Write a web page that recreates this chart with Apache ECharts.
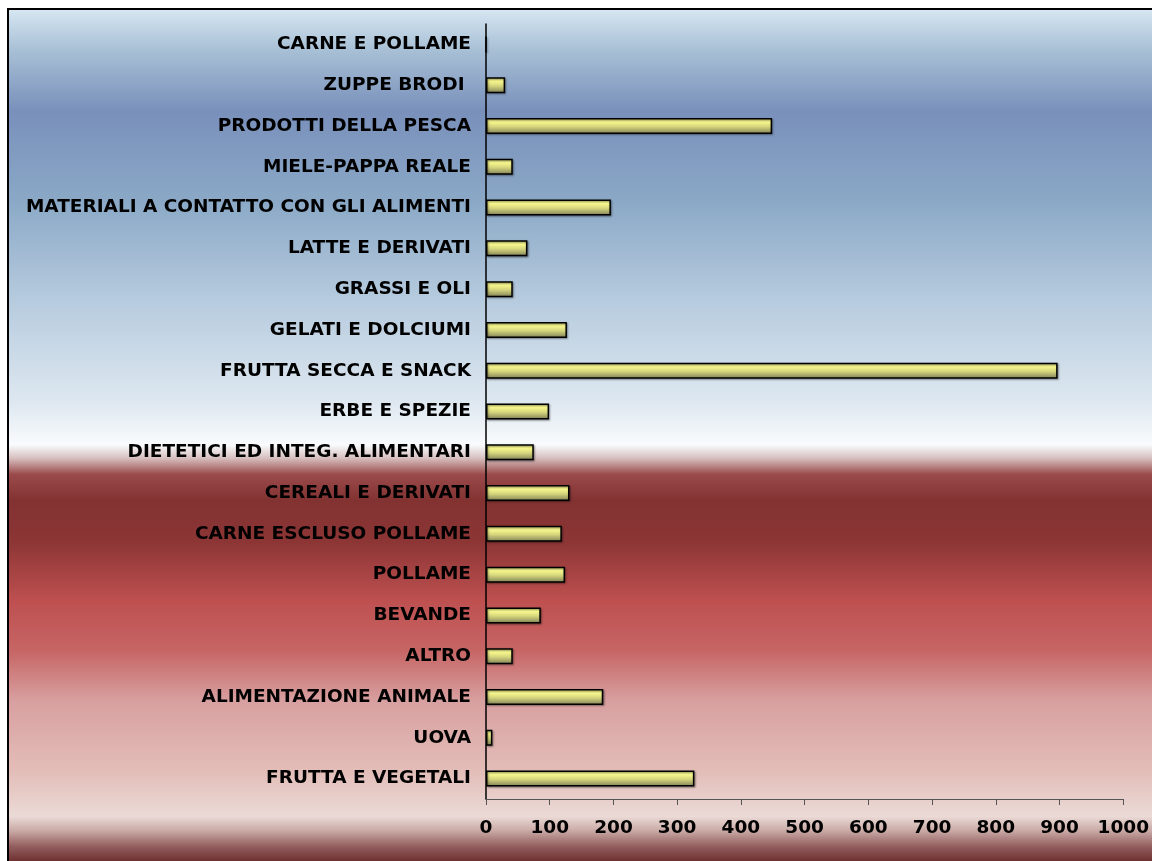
<!DOCTYPE html>
<html>
<head>
<meta charset="utf-8">
<title>Campioni per categoria</title>
<script src="https://cdn.jsdelivr.net/npm/echarts@6/dist/echarts.min.js"></script>
<style>
  html, body { margin: 0; padding: 0; background: #ffffff; }
  #chart { width: 1152px; height: 861px; }
</style>
</head>
<body>
<div id="chart"></div>
<script>
// Categories, listed from top to bottom
const categories = [
  'CARNE E POLLAME',
  'ZUPPE BRODI ',
  'PRODOTTI DELLA PESCA',
  'MIELE-PAPPA REALE',
  'MATERIALI A CONTATTO CON GLI ALIMENTI',
  'LATTE E DERIVATI',
  'GRASSI E OLI',
  'GELATI E DOLCIUMI',
  'FRUTTA SECCA E SNACK',
  'ERBE E SPEZIE',
  'DIETETICI ED INTEG. ALIMENTARI',
  'CEREALI E DERIVATI',
  'CARNE ESCLUSO POLLAME',
  'POLLAME',
  'BEVANDE',
  'ALTRO',
  'ALIMENTAZIONE ANIMALE',
  'UOVA',
  'FRUTTA E VEGETALI'
];

// Values for each category, same order
const values = [
  0, 30, 449, 42, 196, 65, 42, 127, 897, 99,
  75, 131, 119, 124, 86, 42, 184, 10, 327
];

// Value axis range
const axisMin = 0;
const axisMax = 1000;
const axisStep = 100;

const chart = echarts.init(document.getElementById('chart'), null, { renderer: 'canvas' });

const labelFont = {
  color: '#000000',
  fontFamily: '"DejaVu Sans", sans-serif',
  fontWeight: 'bold',
  fontSize: 18.5
};

const option = {
  animation: false,
  backgroundColor: '#ffffff',
  graphic: [{
    type: 'rect',
    silent: true,
    z: -10,
    shape: { x: 8, y: 9, width: 1160, height: 870 },
    style: {
      stroke: '#000000',
      lineWidth: 2,
      fill: new echarts.graphic.LinearGradient(0, 0, 0, 1, [
        { offset: 0.000, color: '#d8e7f3' },
        { offset: 0.047, color: '#a9c1d6' },
        { offset: 0.118, color: '#7990bb' },
        { offset: 0.220, color: '#8aa8c6' },
        { offset: 0.335, color: '#b6cbde' },
        { offset: 0.450, color: '#dde7f0' },
        { offset: 0.501, color: '#f9fbfd' },
        { offset: 0.516, color: '#d8c0c0' },
        { offset: 0.535, color: '#9a4a4a' },
        { offset: 0.565, color: '#833232' },
        { offset: 0.611, color: '#8c3535' },
        { offset: 0.680, color: '#be5050' },
        { offset: 0.737, color: '#c76565' },
        { offset: 0.795, color: '#d8a0a0' },
        { offset: 0.875, color: '#e3bdb8' },
        { offset: 0.927, color: '#ebdad6' },
        { offset: 0.944, color: '#c8a8a4' },
        { offset: 0.961, color: '#946060' },
        { offset: 0.980, color: '#6a2c2c' },
        { offset: 1.000, color: '#5a2424' }
      ])
    }
  }],
  grid: {
    left: 486,
    right: 27,
    top: 24,
    bottom: 62,
    containLabel: false
  },
  xAxis: {
    type: 'value',
    min: axisMin,
    max: axisMax,
    interval: axisStep,
    axisLine: { show: true, lineStyle: { color: '#555555', width: 1 } },
    axisTick: { show: true, length: 6, lineStyle: { color: '#555555', width: 1 } },
    splitLine: { show: false },
    axisLabel: Object.assign({ margin: 20, formatter: function (v) { return String(v); } }, labelFont)
  },
  yAxis: {
    type: 'category',
    data: categories,
    inverse: true,
    axisLine: { show: true, lineStyle: { color: '#000000', width: 1.5 } },
    axisTick: { show: false },
    axisLabel: Object.assign({ margin: 15 }, labelFont)
  },
  series: [{
    type: 'bar',
    data: values,
    barWidth: 16,
    itemStyle: {
      borderColor: '#000000',
      borderWidth: 1.5,
      shadowColor: 'rgba(0,0,0,0.35)',
      shadowBlur: 2,
      shadowOffsetX: 1,
      shadowOffsetY: 1,
      color: new echarts.graphic.LinearGradient(0, 0, 0, 1, [
        { offset: 0.00, color: '#cccc7c' },
        { offset: 0.25, color: '#f8f88e' },
        { offset: 0.55, color: '#d4d47c' },
        { offset: 1.00, color: '#7e7e58' }
      ])
    }
  }]
};

chart.setOption(option);
</script>
</body>
</html>
